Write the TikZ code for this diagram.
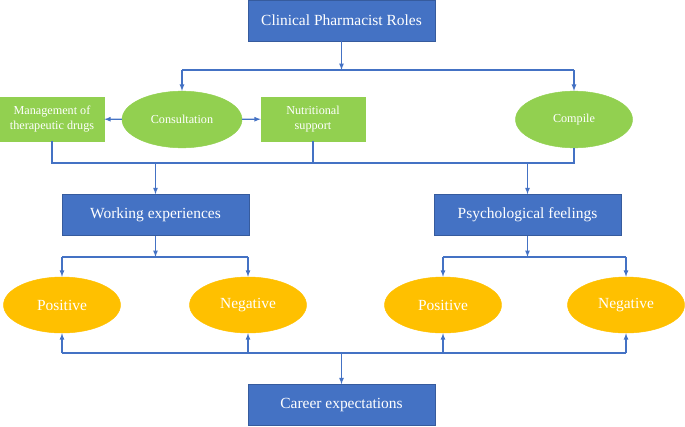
\documentclass[tikz,border=0pt]{standalone}
\usepackage{fontspec}
\setmainfont{Liberation Serif}
\usepackage{tikz}
\usetikzlibrary{shapes.geometric}
\definecolor{boxblue}{HTML}{4472C4}
\definecolor{leafgreen}{HTML}{92D050}
\definecolor{gold}{HTML}{FFC000}
\tikzstyle{bluebox} = [rectangle, draw = boxblue!80!black, fill = boxblue, text = white, inner sep = 0pt, minimum width = 5.61cm, minimum height = 1.23cm, font = \fontsize{13.2}{15}\selectfont]
\tikzstyle{greenbox} = [rectangle, draw = leafgreen, fill = leafgreen, text = white, inner sep = 0pt, minimum width = 3.12cm, minimum height = 1.32cm, align = center, font = \fontsize{10.4}{12.5}\selectfont]
\tikzstyle{greenoval} = [ellipse, draw = leafgreen, fill = leafgreen, text = white, inner sep = 0pt, minimum width = 3.6cm, minimum height = 1.7cm, font = \fontsize{10.4}{12.5}\selectfont]
\tikzstyle{goldoval} = [ellipse, draw = gold, fill = gold, text = white, inner sep = 0pt, minimum width = 3.51cm, minimum height = 1.68cm, font = \fontsize{13.2}{15}\selectfont]
\tikzstyle{link} = [draw = boxblue, line width = 0.9pt]

\begin{document}
\begin{tikzpicture}[x = 0.03cm, y = -0.03cm, >=latex]
        \useasboundingbox (0, 0) rectangle (685, 426);
        \node (roles) at (341.5, 20.5) [bluebox] {Clinical Pharmacist Roles};
        \node (consult) at (182, 119.5) [greenoval] {Consultation};
        \node (manage) at (52, 119) [greenbox] {Management of\\therapeutic drugs};
        \node (nutri) at (313, 119) [greenbox] {Nutritional\\support};
        \node (compile) at (574, 119.5) [greenoval, minimum width = 3.51cm] {Compile};
        \node (work) at (155.5, 215) [bluebox] {Working experiences};
        \node (psych) at (527.5, 215) [bluebox] {Psychological feelings};
        \node (pos1) at (62, 305) [goldoval] {Positive};
        \node (neg1) at (248, 305) [goldoval] {Negative};
        \node (pos2) at (443, 305) [goldoval] {Positive};
        \node (neg2) at (626, 305) [goldoval] {Negative};
        \node (career) at (341.5, 405) [bluebox] {Career expectations};
        % branch levels
        \coordinate (top) at (0, 70);
        \coordinate (mid) at (0, 163);
        \coordinate (wb) at (0, 257);
        \coordinate (bot) at (0, 353);
        % roles
        \draw [link, ->] (roles.south) -- (roles.south |- top);
        \draw [link] (consult.north |- top) -- (compile.north |- top);
        \draw [link, ->] (consult.north |- top) -- (consult.north);
        \draw [link, ->] (compile.north |- top) -- (compile.north);
        \draw [link, ->] (consult) -- (manage);
        \draw [link, ->] (consult) -- (nutri);
        % gathering line
        \draw [link] (manage.south) |- (compile.south |- mid) -- (compile.south);
        \draw [link] (nutri.south) -- (nutri.south |- mid);
        \draw [link, ->] (work.north |- mid) -- (work.north);
        \draw [link, ->] (psych.north |- mid) -- (psych.north);
        % working experiences
        \draw [link, ->] (work.south) -- (work.south |- wb);
        \draw [link] (pos1.north |- wb) -- (neg1.north |- wb);
        \draw [link, ->] (pos1.north |- wb) -- (pos1.north);
        \draw [link, ->] (neg1.north |- wb) -- (neg1.north);
        % psychological feelings
        \draw [link, ->] (psych.south) -- (psych.south |- wb);
        \draw [link] (pos2.north |- wb) -- (neg2.north |- wb);
        \draw [link, ->] (pos2.north |- wb) -- (pos2.north);
        \draw [link, ->] (neg2.north |- wb) -- (neg2.north);
        % career expectations
        \draw [link] (pos1.south |- bot) -- (neg2.south |- bot);
        \draw [link, ->] (career.north |- bot) -- (career.north);
        \draw [link, ->] (pos1.south |- bot) -- (pos1.south);
        \draw [link, ->] (neg1.south |- bot) -- (neg1.south);
        \draw [link, ->] (pos2.south |- bot) -- (pos2.south);
        \draw [link, ->] (neg2.south |- bot) -- (neg2.south);
    \end{tikzpicture}
\end{document}
